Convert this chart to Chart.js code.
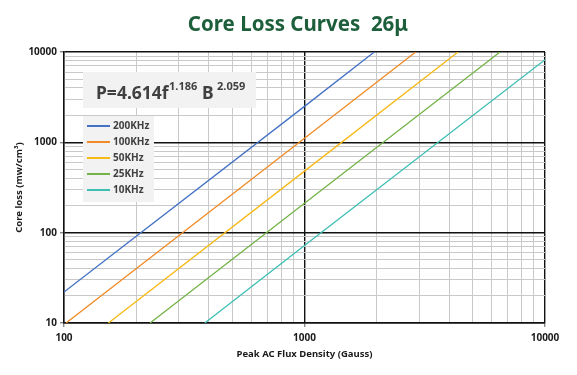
<!DOCTYPE html>
<html><head><meta charset="utf-8">
<script src="https://cdn.jsdelivr.net/npm/chart.js@4/dist/chart.umd.min.js"></script>
<style>html,body{margin:0;padding:0;background:#fff}#wrap{width:577px;height:375px;position:relative}</style>
</head><body><div id="wrap"><canvas id="c" width="577" height="375"></canvas></div>
<script>
// ---- data ----
const chartTitle = 'Core Loss Curves  26\u03bc';
const xAxisTitle = 'Peak AC Flux Density (Gauss)';
const yAxisTitle = 'Core loss (mw/cm\u00b3)';
const seriesNames = ['200KHz', '100KHz', '50KHz', '25KHz', '10KHz'];
const seriesColors = ['#4472c4', '#f08a24', '#f7b916', '#74b347', '#3ebfb4'];
const flux200 = [100, 1000, 1950];  const loss200 = [22, 2500, 10000];
const flux100 = [102, 1000, 2900];  const loss100 = [10, 1110, 10000];
const flux50  = [153, 1000, 4350];  const loss50  = [10, 480, 10000];
const flux25  = [228, 1000, 6500];  const loss25  = [10, 212, 10000];
const flux10  = [385, 1000, 10000]; const loss10  = [10, 72, 8200];
const xTickLabels = [100, 1000, 10000];
const yTickLabels = [10, 100, 1000, 10000];
const formulaParts = ['P=4.614f', '1.186', 'B', '2.059'];

const fluxes = [flux200, flux100, flux50, flux25, flux10];
const losses = [loss200, loss100, loss50, loss25, loss10];

const FONT = '"Noto Sans", "Open Sans", sans-serif';
const isDecade = v => Math.abs(Math.log10(v) - Math.round(Math.log10(v))) < 1e-9;
function logGrid(min, max) {
  const out = [];
  for (let e = Math.log10(min); e < Math.log10(max); e++) {
    for (let m = 1; m <= 9; m++) out.push(m * Math.pow(10, e));
  }
  out.push(max);
  return out;
}

const datasets = seriesNames.map((n, i) => ({
  label: n,
  data: fluxes[i].map((x, j) => ({x, y: losses[i][j]})),
  borderColor: seriesColors[i],
  backgroundColor: seriesColors[i],
  borderWidth: 1.3,
  pointRadius: 0,
  tension: 0,
  fill: false
}));

function gridOpts() {
  return {
    color: c => c.tick && isDecade(c.tick.value) ? '#111' : '#c9c9c9',
    lineWidth: c => c.tick && isDecade(c.tick.value) ? 1.4 : 1,
    tickColor: c => c.tick && isDecade(c.tick.value) ? '#888' : 'rgba(0,0,0,0)',
    tickLength: 4,
    drawTicks: true
  };
}

const overlay = {
  id: 'overlay',
  afterDraw(chart) {
    const ctx = chart.ctx;
    ctx.save();
    // title
    ctx.fillStyle = '#1d5e3b';
    ctx.font = 'bold 20.5px ' + FONT;
    ctx.textAlign = 'center';
    ctx.textBaseline = 'middle';
    ctx.fillText(chartTitle, 298, 25);
    // formula box
    ctx.fillStyle = '#f2f2f2';
    ctx.fillRect(83, 72, 173, 36);
    ctx.fillStyle = '#404040';
    ctx.textAlign = 'left';
    ctx.textBaseline = 'alphabetic';
    ctx.font = 'bold 17.5px ' + FONT;
    ctx.fillText(formulaParts[0], 96, 99);
    ctx.font = 'bold 11px ' + FONT;
    ctx.fillText(formulaParts[1], 169, 90);
    ctx.font = 'bold 17.5px ' + FONT;
    ctx.fillText(formulaParts[2], 202, 99);
    ctx.font = 'bold 11px ' + FONT;
    ctx.fillText(formulaParts[3], 217, 90);
    // legend box
    ctx.fillStyle = '#f2f2f2';
    ctx.fillRect(83, 116, 71, 86);
    chart.data.datasets.forEach((d, i) => {
      const y = 126 + i * 16;
      ctx.strokeStyle = d.borderColor;
      ctx.lineWidth = 2;
      ctx.beginPath(); ctx.moveTo(87, y); ctx.lineTo(110, y); ctx.stroke();
      ctx.fillStyle = '#404040';
      ctx.font = 'bold 10px ' + FONT;
      ctx.textBaseline = 'middle';
      ctx.fillText(d.label, 113, y + 0.5);
    });
    ctx.restore();
  }
};

new Chart(document.getElementById('c'), {
  type: 'line',
  data: {datasets},
  plugins: [overlay],
  options: {
    responsive: false,
    animation: false,
    devicePixelRatio: 1,
    layout: {padding: {top: 52, right: 32, left: 0, bottom: 0}},
    plugins: {legend: {display: false}, title: {display: false}, tooltip: {enabled: false}},
    scales: {
      x: {
        type: 'logarithmic', min: 100, max: 10000, position: 'bottom',
        afterFit: s => { s.height = 52; },
        afterBuildTicks: s => { s.ticks = logGrid(100, 10000).map(v => ({value: v})); },
        ticks: {
          autoSkip: false, maxRotation: 0, padding: 5, color: '#1a1a1a',
          font: {family: FONT, size: 10, weight: 'bold'},
          callback: v => xTickLabels.includes(v) ? String(v) : ''
        },
        grid: gridOpts(),
        border: {display: true, color: '#111', width: 1.4},
        title: {display: true, text: xAxisTitle, color: '#1a1a1a',
          font: {family: FONT, size: 9.5, weight: 'bold'}, padding: {top: 0, bottom: 15}}
      },
      y: {
        type: 'logarithmic', min: 10, max: 10000,
        afterFit: s => { s.width = 64; },
        afterBuildTicks: s => { s.ticks = logGrid(10, 10000).map(v => ({value: v})); },
        ticks: {
          autoSkip: false, padding: 3, color: '#1a1a1a',
          font: {family: FONT, size: 10, weight: 'bold'},
          callback: v => yTickLabels.includes(v) ? String(v) : ''
        },
        grid: gridOpts(),
        border: {display: true, color: '#111', width: 1.4},
        title: {display: true, text: yAxisTitle, color: '#1a1a1a',
          font: {family: FONT, size: 9.5, weight: 'bold'}, padding: {top: 14, bottom: 0}}
      }
    }
  }
});
</script></body></html>
